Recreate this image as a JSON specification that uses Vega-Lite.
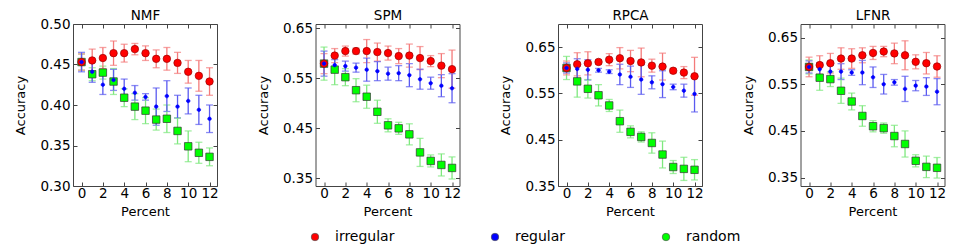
{
  "$schema": "https://vega.github.io/schema/vega-lite/v6.json",
  "padding": {"left": 14, "top": 8, "right": 5, "bottom": 30},
  "background": "white",
  "data": {"values": [
    {"m":"NMF","p":"random","x":0,"y":0.453,"e":0.010},
    {"m":"NMF","p":"random","x":1,"y":0.438,"e":0.008},
    {"m":"NMF","p":"random","x":2,"y":0.440,"e":0.008},
    {"m":"NMF","p":"random","x":3,"y":0.429,"e":0.016},
    {"m":"NMF","p":"random","x":4,"y":0.409,"e":0.011},
    {"m":"NMF","p":"random","x":5,"y":0.398,"e":0.016},
    {"m":"NMF","p":"random","x":6,"y":0.393,"e":0.016},
    {"m":"NMF","p":"random","x":7,"y":0.382,"e":0.013},
    {"m":"NMF","p":"random","x":8,"y":0.383,"e":0.017},
    {"m":"NMF","p":"random","x":9,"y":0.368,"e":0.016},
    {"m":"NMF","p":"random","x":10,"y":0.349,"e":0.019},
    {"m":"NMF","p":"random","x":11,"y":0.341,"e":0.013},
    {"m":"NMF","p":"random","x":12,"y":0.336,"e":0.011},
    {"m":"NMF","p":"irregular","x":0,"y":0.453,"e":0.010},
    {"m":"NMF","p":"irregular","x":1,"y":0.455,"e":0.014},
    {"m":"NMF","p":"irregular","x":2,"y":0.458,"e":0.013},
    {"m":"NMF","p":"irregular","x":3,"y":0.464,"e":0.015},
    {"m":"NMF","p":"irregular","x":4,"y":0.464,"e":0.011},
    {"m":"NMF","p":"irregular","x":5,"y":0.469,"e":0.007},
    {"m":"NMF","p":"irregular","x":6,"y":0.464,"e":0.009},
    {"m":"NMF","p":"irregular","x":7,"y":0.457,"e":0.011},
    {"m":"NMF","p":"irregular","x":8,"y":0.457,"e":0.014},
    {"m":"NMF","p":"irregular","x":9,"y":0.452,"e":0.013},
    {"m":"NMF","p":"irregular","x":10,"y":0.441,"e":0.014},
    {"m":"NMF","p":"irregular","x":11,"y":0.436,"e":0.019},
    {"m":"NMF","p":"irregular","x":12,"y":0.429,"e":0.017},
    {"m":"NMF","p":"regular","x":0,"y":0.453,"e":0.012},
    {"m":"NMF","p":"regular","x":1,"y":0.441,"e":0.013},
    {"m":"NMF","p":"regular","x":2,"y":0.425,"e":0.012},
    {"m":"NMF","p":"regular","x":3,"y":0.431,"e":0.013},
    {"m":"NMF","p":"regular","x":4,"y":0.420,"e":0.012},
    {"m":"NMF","p":"regular","x":5,"y":0.415,"e":0.009},
    {"m":"NMF","p":"regular","x":6,"y":0.410,"e":0.004},
    {"m":"NMF","p":"regular","x":7,"y":0.398,"e":0.023},
    {"m":"NMF","p":"regular","x":8,"y":0.411,"e":0.019},
    {"m":"NMF","p":"regular","x":9,"y":0.398,"e":0.014},
    {"m":"NMF","p":"regular","x":10,"y":0.405,"e":0.016},
    {"m":"NMF","p":"regular","x":11,"y":0.394,"e":0.018},
    {"m":"NMF","p":"regular","x":12,"y":0.383,"e":0.017},
    {"m":"SPM","p":"random","x":0,"y":0.579,"e":0.033},
    {"m":"SPM","p":"random","x":1,"y":0.567,"e":0.030},
    {"m":"SPM","p":"random","x":2,"y":0.552,"e":0.017},
    {"m":"SPM","p":"random","x":3,"y":0.526,"e":0.023},
    {"m":"SPM","p":"random","x":4,"y":0.513,"e":0.023},
    {"m":"SPM","p":"random","x":5,"y":0.483,"e":0.023},
    {"m":"SPM","p":"random","x":6,"y":0.456,"e":0.013},
    {"m":"SPM","p":"random","x":7,"y":0.450,"e":0.012},
    {"m":"SPM","p":"random","x":8,"y":0.438,"e":0.021},
    {"m":"SPM","p":"random","x":9,"y":0.402,"e":0.028},
    {"m":"SPM","p":"random","x":10,"y":0.385,"e":0.012},
    {"m":"SPM","p":"random","x":11,"y":0.377,"e":0.022},
    {"m":"SPM","p":"random","x":12,"y":0.371,"e":0.022},
    {"m":"SPM","p":"irregular","x":0,"y":0.579,"e":0.020},
    {"m":"SPM","p":"irregular","x":1,"y":0.595,"e":0.014},
    {"m":"SPM","p":"irregular","x":2,"y":0.604,"e":0.010},
    {"m":"SPM","p":"irregular","x":3,"y":0.604,"e":0.006},
    {"m":"SPM","p":"irregular","x":4,"y":0.604,"e":0.023},
    {"m":"SPM","p":"irregular","x":5,"y":0.602,"e":0.018},
    {"m":"SPM","p":"irregular","x":6,"y":0.600,"e":0.014},
    {"m":"SPM","p":"irregular","x":7,"y":0.594,"e":0.015},
    {"m":"SPM","p":"irregular","x":8,"y":0.595,"e":0.023},
    {"m":"SPM","p":"irregular","x":9,"y":0.590,"e":0.023},
    {"m":"SPM","p":"irregular","x":10,"y":0.584,"e":0.011},
    {"m":"SPM","p":"irregular","x":11,"y":0.575,"e":0.024},
    {"m":"SPM","p":"irregular","x":12,"y":0.568,"e":0.038},
    {"m":"SPM","p":"regular","x":0,"y":0.579,"e":0.025},
    {"m":"SPM","p":"regular","x":1,"y":0.576,"e":0.011},
    {"m":"SPM","p":"regular","x":2,"y":0.574,"e":0.010},
    {"m":"SPM","p":"regular","x":3,"y":0.571,"e":0.009},
    {"m":"SPM","p":"regular","x":4,"y":0.567,"e":0.023},
    {"m":"SPM","p":"regular","x":5,"y":0.564,"e":0.019},
    {"m":"SPM","p":"regular","x":6,"y":0.559,"e":0.013},
    {"m":"SPM","p":"regular","x":7,"y":0.560,"e":0.015},
    {"m":"SPM","p":"regular","x":8,"y":0.556,"e":0.023},
    {"m":"SPM","p":"regular","x":9,"y":0.548,"e":0.020},
    {"m":"SPM","p":"regular","x":10,"y":0.540,"e":0.012},
    {"m":"SPM","p":"regular","x":11,"y":0.535,"e":0.022},
    {"m":"SPM","p":"regular","x":12,"y":0.530,"e":0.029},
    {"m":"RPCA","p":"random","x":0,"y":0.605,"e":0.025},
    {"m":"RPCA","p":"random","x":1,"y":0.576,"e":0.034},
    {"m":"RPCA","p":"random","x":2,"y":0.560,"e":0.020},
    {"m":"RPCA","p":"random","x":3,"y":0.546,"e":0.023},
    {"m":"RPCA","p":"random","x":4,"y":0.524,"e":0.013},
    {"m":"RPCA","p":"random","x":5,"y":0.490,"e":0.024},
    {"m":"RPCA","p":"random","x":6,"y":0.467,"e":0.013},
    {"m":"RPCA","p":"random","x":7,"y":0.456,"e":0.011},
    {"m":"RPCA","p":"random","x":8,"y":0.443,"e":0.022},
    {"m":"RPCA","p":"random","x":9,"y":0.418,"e":0.029},
    {"m":"RPCA","p":"random","x":10,"y":0.391,"e":0.014},
    {"m":"RPCA","p":"random","x":11,"y":0.387,"e":0.025},
    {"m":"RPCA","p":"random","x":12,"y":0.385,"e":0.022},
    {"m":"RPCA","p":"irregular","x":0,"y":0.605,"e":0.015},
    {"m":"RPCA","p":"irregular","x":1,"y":0.613,"e":0.025},
    {"m":"RPCA","p":"irregular","x":2,"y":0.615,"e":0.025},
    {"m":"RPCA","p":"irregular","x":3,"y":0.618,"e":0.005},
    {"m":"RPCA","p":"irregular","x":4,"y":0.623,"e":0.013},
    {"m":"RPCA","p":"irregular","x":5,"y":0.626,"e":0.023},
    {"m":"RPCA","p":"irregular","x":6,"y":0.620,"e":0.023},
    {"m":"RPCA","p":"irregular","x":7,"y":0.617,"e":0.031},
    {"m":"RPCA","p":"irregular","x":8,"y":0.610,"e":0.014},
    {"m":"RPCA","p":"irregular","x":9,"y":0.608,"e":0.029},
    {"m":"RPCA","p":"irregular","x":10,"y":0.599,"e":0.005},
    {"m":"RPCA","p":"irregular","x":11,"y":0.595,"e":0.013},
    {"m":"RPCA","p":"irregular","x":12,"y":0.587,"e":0.041},
    {"m":"RPCA","p":"regular","x":0,"y":0.605,"e":0.011},
    {"m":"RPCA","p":"regular","x":1,"y":0.603,"e":0.022},
    {"m":"RPCA","p":"regular","x":2,"y":0.601,"e":0.022},
    {"m":"RPCA","p":"regular","x":3,"y":0.600,"e":0.004},
    {"m":"RPCA","p":"regular","x":4,"y":0.597,"e":0.004},
    {"m":"RPCA","p":"regular","x":5,"y":0.591,"e":0.022},
    {"m":"RPCA","p":"regular","x":6,"y":0.586,"e":0.023},
    {"m":"RPCA","p":"regular","x":7,"y":0.580,"e":0.032},
    {"m":"RPCA","p":"regular","x":8,"y":0.574,"e":0.014},
    {"m":"RPCA","p":"regular","x":9,"y":0.570,"e":0.029},
    {"m":"RPCA","p":"regular","x":10,"y":0.564,"e":0.006},
    {"m":"RPCA","p":"regular","x":11,"y":0.556,"e":0.014},
    {"m":"RPCA","p":"regular","x":12,"y":0.549,"e":0.039},
    {"m":"LFNR","p":"random","x":0,"y":0.587,"e":0.015},
    {"m":"LFNR","p":"random","x":1,"y":0.564,"e":0.027},
    {"m":"LFNR","p":"random","x":2,"y":0.561,"e":0.016},
    {"m":"LFNR","p":"random","x":3,"y":0.536,"e":0.027},
    {"m":"LFNR","p":"random","x":4,"y":0.513,"e":0.018},
    {"m":"LFNR","p":"random","x":5,"y":0.482,"e":0.022},
    {"m":"LFNR","p":"random","x":6,"y":0.460,"e":0.012},
    {"m":"LFNR","p":"random","x":7,"y":0.456,"e":0.011},
    {"m":"LFNR","p":"random","x":8,"y":0.439,"e":0.023},
    {"m":"LFNR","p":"random","x":9,"y":0.422,"e":0.028},
    {"m":"LFNR","p":"random","x":10,"y":0.386,"e":0.013},
    {"m":"LFNR","p":"random","x":11,"y":0.373,"e":0.023},
    {"m":"LFNR","p":"random","x":12,"y":0.371,"e":0.022},
    {"m":"LFNR","p":"irregular","x":0,"y":0.587,"e":0.021},
    {"m":"LFNR","p":"irregular","x":1,"y":0.591,"e":0.020},
    {"m":"LFNR","p":"irregular","x":2,"y":0.595,"e":0.021},
    {"m":"LFNR","p":"irregular","x":3,"y":0.605,"e":0.023},
    {"m":"LFNR","p":"irregular","x":4,"y":0.605,"e":0.021},
    {"m":"LFNR","p":"irregular","x":5,"y":0.612,"e":0.016},
    {"m":"LFNR","p":"irregular","x":6,"y":0.617,"e":0.014},
    {"m":"LFNR","p":"irregular","x":7,"y":0.620,"e":0.011},
    {"m":"LFNR","p":"irregular","x":8,"y":0.616,"e":0.022},
    {"m":"LFNR","p":"irregular","x":9,"y":0.612,"e":0.031},
    {"m":"LFNR","p":"irregular","x":10,"y":0.598,"e":0.015},
    {"m":"LFNR","p":"irregular","x":11,"y":0.595,"e":0.023},
    {"m":"LFNR","p":"irregular","x":12,"y":0.588,"e":0.023},
    {"m":"LFNR","p":"regular","x":0,"y":0.587,"e":0.013},
    {"m":"LFNR","p":"regular","x":1,"y":0.582,"e":0.014},
    {"m":"LFNR","p":"regular","x":2,"y":0.577,"e":0.016},
    {"m":"LFNR","p":"regular","x":3,"y":0.577,"e":0.017},
    {"m":"LFNR","p":"regular","x":4,"y":0.575,"e":0.006},
    {"m":"LFNR","p":"regular","x":5,"y":0.575,"e":0.026},
    {"m":"LFNR","p":"regular","x":6,"y":0.565,"e":0.022},
    {"m":"LFNR","p":"regular","x":7,"y":0.550,"e":0.021},
    {"m":"LFNR","p":"regular","x":8,"y":0.554,"e":0.006},
    {"m":"LFNR","p":"regular","x":9,"y":0.540,"e":0.027},
    {"m":"LFNR","p":"regular","x":10,"y":0.547,"e":0.011},
    {"m":"LFNR","p":"regular","x":11,"y":0.545,"e":0.019},
    {"m":"LFNR","p":"regular","x":12,"y":0.534,"e":0.028}
  ]},
  "bounds": "flush",
  "spacing": 98.5,
  "hconcat": [
    {
      "width": 144, "height": 162,
      "transform": [{"filter": "datum.m === 'NMF'"}],
      "resolve": {"axis": {"x": "independent", "y": "independent"}},
      "layer": [
        {
          "mark": {"type": "errorbar", "ticks": {"size": 7}, "thickness": 1.3},
          "encoding": {
            "x": {"field": "x", "type": "quantitative", "scale": {"domain": [-0.8, 12.7], "nice": false, "zero": false}, "axis": {"orient": "bottom", "values": [0,2,4,6,8,10,12], "title": "Percent"}},
            "y": {"field": "y", "type": "quantitative", "scale": {"domain": [0.30, 0.50], "nice": false, "zero": false}, "axis": {"orient": "left", "values": [0.30,0.35,0.40,0.45,0.50], "format": ".2f", "title": "Accuracy"}},
            "yError": {"field": "e"},
            "color": {"field": "p", "type": "nominal", "scale": {"domain": ["regular","irregular","random"], "range": ["#5a5af0","#f47a7a","#7ee87e"]}, "legend": null}
          }
        },
        {
          "mark": {"type": "point", "filled": true, "opacity": 1, "strokeWidth": 0.7, "size": 56},
          "encoding": {
            "x": {"field": "x", "type": "quantitative", "axis": {"orient": "top", "values": [0,2,4,6,8,10,12], "labels": false, "title": "NMF", "titleFontSize": 13.5, "titleFontWeight": 400, "titlePadding": 1}},
            "y": {"field": "y", "type": "quantitative", "axis": {"orient": "right", "values": [0.30,0.35,0.40,0.45,0.50], "labels": false, "title": null}},
            "fill": {"field": "p", "type": "nominal", "title": null, "scale": {"domain": ["irregular","regular","random"], "range": ["#ff0000","#0000ff","#00ff00"]},
              "legend": {"orient": "none", "legendX": 235, "legendY": 206, "direction": "horizontal", "title": null, "symbolType": "circle", "symbolSize": 56, "symbolStrokeWidth": 0.7, "symbolStrokeColor": "#555555", "labelFont": "DejaVu Sans", "labelFontSize": 14, "labelColor": "#000000", "labelOffset": 13, "columnPadding": 93}},
            "stroke": {"field": "p", "type": "nominal", "scale": {"domain": ["regular","random","irregular"], "range": ["#0000ff","#333333","#990000"]}, "legend": null},
            "shape": {"field": "p", "type": "nominal", "scale": {"domain": ["random","irregular","regular"], "range": ["square","circle","M 0.47 0 C 0.47 0.26 0.26 0.47 0 0.47 C -0.26 0.47 -0.47 0.26 -0.47 0 C -0.47 -0.26 -0.26 -0.47 0 -0.47 C 0.26 -0.47 0.47 -0.26 0.47 0 Z"]}, "legend": null}
          }
        }
      ]
    },
    {
      "width": 144, "height": 162,
      "transform": [{"filter": "datum.m === 'SPM'"}],
      "resolve": {"axis": {"x": "independent", "y": "independent"}},
      "layer": [
        {
          "mark": {"type": "errorbar", "ticks": {"size": 7}, "thickness": 1.3},
          "encoding": {
            "x": {"field": "x", "type": "quantitative", "scale": {"domain": [-0.8, 12.7], "nice": false, "zero": false}, "axis": {"orient": "bottom", "values": [0,2,4,6,8,10,12], "title": "Percent"}},
            "y": {"field": "y", "type": "quantitative", "scale": {"domain": [0.335, 0.658], "nice": false, "zero": false}, "axis": {"orient": "left", "values": [0.35,0.45,0.55,0.65], "format": ".2f", "title": "Accuracy"}},
            "yError": {"field": "e"},
            "color": {"field": "p", "type": "nominal", "scale": {"domain": ["regular","irregular","random"], "range": ["#5a5af0","#f47a7a","#7ee87e"]}, "legend": null}
          }
        },
        {
          "mark": {"type": "point", "filled": true, "opacity": 1, "strokeWidth": 0.7, "size": 56},
          "encoding": {
            "x": {"field": "x", "type": "quantitative", "axis": {"orient": "top", "values": [0,2,4,6,8,10,12], "labels": false, "title": "SPM", "titleFontSize": 13.5, "titleFontWeight": 400, "titlePadding": 1}},
            "y": {"field": "y", "type": "quantitative", "axis": {"orient": "right", "values": [0.35,0.45,0.55,0.65], "labels": false, "title": null}},
            "fill": {"field": "p", "type": "nominal", "title": null, "scale": {"domain": ["irregular","regular","random"], "range": ["#ff0000","#0000ff","#00ff00"]}},
            "stroke": {"field": "p", "type": "nominal", "scale": {"domain": ["regular","random","irregular"], "range": ["#0000ff","#333333","#990000"]}, "legend": null},
            "shape": {"field": "p", "type": "nominal", "scale": {"domain": ["random","irregular","regular"], "range": ["square","circle","M 0.47 0 C 0.47 0.26 0.26 0.47 0 0.47 C -0.26 0.47 -0.47 0.26 -0.47 0 C -0.47 -0.26 -0.26 -0.47 0 -0.47 C 0.26 -0.47 0.47 -0.26 0.47 0 Z"]}, "legend": null}
          }
        }
      ]
    },
    {
      "width": 144, "height": 162,
      "transform": [{"filter": "datum.m === 'RPCA'"}],
      "resolve": {"axis": {"x": "independent", "y": "independent"}},
      "layer": [
        {
          "mark": {"type": "errorbar", "ticks": {"size": 7}, "thickness": 1.3},
          "encoding": {
            "x": {"field": "x", "type": "quantitative", "scale": {"domain": [-0.8, 12.7], "nice": false, "zero": false}, "axis": {"orient": "bottom", "values": [0,2,4,6,8,10,12], "title": "Percent"}},
            "y": {"field": "y", "type": "quantitative", "scale": {"domain": [0.35, 0.70], "nice": false, "zero": false}, "axis": {"orient": "left", "values": [0.35,0.45,0.55,0.65], "format": ".2f", "title": "Accuracy"}},
            "yError": {"field": "e"},
            "color": {"field": "p", "type": "nominal", "scale": {"domain": ["regular","irregular","random"], "range": ["#5a5af0","#f47a7a","#7ee87e"]}, "legend": null}
          }
        },
        {
          "mark": {"type": "point", "filled": true, "opacity": 1, "strokeWidth": 0.7, "size": 56},
          "encoding": {
            "x": {"field": "x", "type": "quantitative", "axis": {"orient": "top", "values": [0,2,4,6,8,10,12], "labels": false, "title": "RPCA", "titleFontSize": 13.5, "titleFontWeight": 400, "titlePadding": 1}},
            "y": {"field": "y", "type": "quantitative", "axis": {"orient": "right", "values": [0.35,0.45,0.55,0.65], "labels": false, "title": null}},
            "fill": {"field": "p", "type": "nominal", "title": null, "scale": {"domain": ["irregular","regular","random"], "range": ["#ff0000","#0000ff","#00ff00"]}},
            "stroke": {"field": "p", "type": "nominal", "scale": {"domain": ["regular","random","irregular"], "range": ["#0000ff","#333333","#990000"]}, "legend": null},
            "shape": {"field": "p", "type": "nominal", "scale": {"domain": ["random","irregular","regular"], "range": ["square","circle","M 0.47 0 C 0.47 0.26 0.26 0.47 0 0.47 C -0.26 0.47 -0.47 0.26 -0.47 0 C -0.47 -0.26 -0.26 -0.47 0 -0.47 C 0.26 -0.47 0.47 -0.26 0.47 0 Z"]}, "legend": null}
          }
        }
      ]
    },
    {
      "width": 144, "height": 162,
      "transform": [{"filter": "datum.m === 'LFNR'"}],
      "resolve": {"axis": {"x": "independent", "y": "independent"}},
      "layer": [
        {
          "mark": {"type": "errorbar", "ticks": {"size": 7}, "thickness": 1.3},
          "encoding": {
            "x": {"field": "x", "type": "quantitative", "scale": {"domain": [-0.8, 12.7], "nice": false, "zero": false}, "axis": {"orient": "bottom", "values": [0,2,4,6,8,10,12], "title": "Percent"}},
            "y": {"field": "y", "type": "quantitative", "scale": {"domain": [0.332, 0.679], "nice": false, "zero": false}, "axis": {"orient": "left", "values": [0.35,0.45,0.55,0.65], "format": ".2f", "title": "Accuracy"}},
            "yError": {"field": "e"},
            "color": {"field": "p", "type": "nominal", "scale": {"domain": ["regular","irregular","random"], "range": ["#5a5af0","#f47a7a","#7ee87e"]}, "legend": null}
          }
        },
        {
          "mark": {"type": "point", "filled": true, "opacity": 1, "strokeWidth": 0.7, "size": 56},
          "encoding": {
            "x": {"field": "x", "type": "quantitative", "axis": {"orient": "top", "values": [0,2,4,6,8,10,12], "labels": false, "title": "LFNR", "titleFontSize": 13.5, "titleFontWeight": 400, "titlePadding": 1}},
            "y": {"field": "y", "type": "quantitative", "axis": {"orient": "right", "values": [0.35,0.45,0.55,0.65], "labels": false, "title": null}},
            "fill": {"field": "p", "type": "nominal", "title": null, "scale": {"domain": ["irregular","regular","random"], "range": ["#ff0000","#0000ff","#00ff00"]}},
            "stroke": {"field": "p", "type": "nominal", "scale": {"domain": ["regular","random","irregular"], "range": ["#0000ff","#333333","#990000"]}, "legend": null},
            "shape": {"field": "p", "type": "nominal", "scale": {"domain": ["random","irregular","regular"], "range": ["square","circle","M 0.47 0 C 0.47 0.26 0.26 0.47 0 0.47 C -0.26 0.47 -0.47 0.26 -0.47 0 C -0.47 -0.26 -0.26 -0.47 0 -0.47 C 0.26 -0.47 0.47 -0.26 0.47 0 Z"]}, "legend": null}
          }
        }
      ]
    }
  ],
  "resolve": {"scale": {"x": "independent", "y": "independent"}},
  "config": {
    "view": {"stroke": "#444444", "strokeWidth": 1},
    "axis": {"domain": false, "grid": false, "ticks": true, "tickSize": -4, "tickColor": "#444444", "labelFont": "DejaVu Sans", "labelFontSize": 13.5, "labelColor": "#000000", "labelPadding": 7, "labelFlush": false, "labelOverlap": false, "titleFont": "DejaVu Sans", "titleFontSize": 13, "titleFontWeight": "normal", "titleColor": "#000000"},
    "axisLeft": {"titlePadding": 12},
    "axisBottom": {"titlePadding": 5.5, "labelPadding": 4.5}
  }
}
